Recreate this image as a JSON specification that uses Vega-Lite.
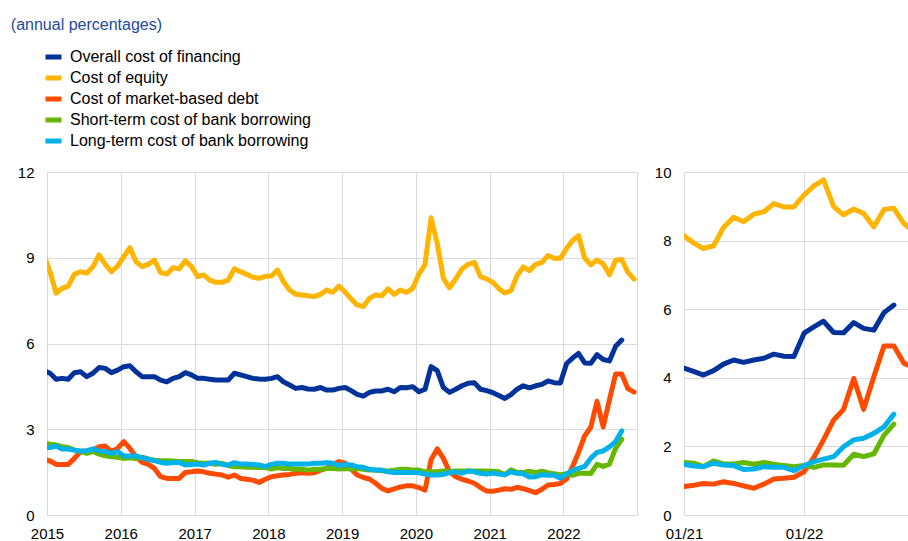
{
"$schema": "https://vega.github.io/schema/vega-lite/v6.json",
"padding": {"left": 10, "top": 16, "right": 0, "bottom": 0},
"title": {"text": "(annual percentages)", "anchor": "start", "frame": "bounds", "offset": 14, "dx": -6, "font": "Liberation Sans", "fontSize": 16, "fontWeight": "normal", "color": "#1e4aa0"},
"data": {"values": [
{"series":"Overall cost of financing","date":"2014-12","value":5.05},
{"series":"Overall cost of financing","date":"2015-01","value":4.96},
{"series":"Overall cost of financing","date":"2015-02","value":4.75},
{"series":"Overall cost of financing","date":"2015-03","value":4.78},
{"series":"Overall cost of financing","date":"2015-04","value":4.75},
{"series":"Overall cost of financing","date":"2015-05","value":4.98},
{"series":"Overall cost of financing","date":"2015-06","value":5.01},
{"series":"Overall cost of financing","date":"2015-07","value":4.84},
{"series":"Overall cost of financing","date":"2015-08","value":4.96},
{"series":"Overall cost of financing","date":"2015-09","value":5.16},
{"series":"Overall cost of financing","date":"2015-10","value":5.13},
{"series":"Overall cost of financing","date":"2015-11","value":4.98},
{"series":"Overall cost of financing","date":"2015-12","value":5.07},
{"series":"Overall cost of financing","date":"2016-01","value":5.19},
{"series":"Overall cost of financing","date":"2016-02","value":5.22},
{"series":"Overall cost of financing","date":"2016-03","value":5.01},
{"series":"Overall cost of financing","date":"2016-04","value":4.84},
{"series":"Overall cost of financing","date":"2016-05","value":4.84},
{"series":"Overall cost of financing","date":"2016-06","value":4.84},
{"series":"Overall cost of financing","date":"2016-07","value":4.72},
{"series":"Overall cost of financing","date":"2016-08","value":4.66},
{"series":"Overall cost of financing","date":"2016-09","value":4.78},
{"series":"Overall cost of financing","date":"2016-10","value":4.84},
{"series":"Overall cost of financing","date":"2016-11","value":4.98},
{"series":"Overall cost of financing","date":"2016-12","value":4.90},
{"series":"Overall cost of financing","date":"2017-01","value":4.78},
{"series":"Overall cost of financing","date":"2017-02","value":4.78},
{"series":"Overall cost of financing","date":"2017-03","value":4.75},
{"series":"Overall cost of financing","date":"2017-04","value":4.72},
{"series":"Overall cost of financing","date":"2017-05","value":4.72},
{"series":"Overall cost of financing","date":"2017-06","value":4.72},
{"series":"Overall cost of financing","date":"2017-07","value":4.96},
{"series":"Overall cost of financing","date":"2017-08","value":4.90},
{"series":"Overall cost of financing","date":"2017-09","value":4.84},
{"series":"Overall cost of financing","date":"2017-10","value":4.78},
{"series":"Overall cost of financing","date":"2017-11","value":4.76},
{"series":"Overall cost of financing","date":"2017-12","value":4.75},
{"series":"Overall cost of financing","date":"2018-01","value":4.78},
{"series":"Overall cost of financing","date":"2018-02","value":4.84},
{"series":"Overall cost of financing","date":"2018-03","value":4.66},
{"series":"Overall cost of financing","date":"2018-04","value":4.55},
{"series":"Overall cost of financing","date":"2018-05","value":4.43},
{"series":"Overall cost of financing","date":"2018-06","value":4.46},
{"series":"Overall cost of financing","date":"2018-07","value":4.41},
{"series":"Overall cost of financing","date":"2018-08","value":4.40},
{"series":"Overall cost of financing","date":"2018-09","value":4.46},
{"series":"Overall cost of financing","date":"2018-10","value":4.37},
{"series":"Overall cost of financing","date":"2018-11","value":4.37},
{"series":"Overall cost of financing","date":"2018-12","value":4.43},
{"series":"Overall cost of financing","date":"2019-01","value":4.46},
{"series":"Overall cost of financing","date":"2019-02","value":4.35},
{"series":"Overall cost of financing","date":"2019-03","value":4.22},
{"series":"Overall cost of financing","date":"2019-04","value":4.16},
{"series":"Overall cost of financing","date":"2019-05","value":4.29},
{"series":"Overall cost of financing","date":"2019-06","value":4.34},
{"series":"Overall cost of financing","date":"2019-07","value":4.34},
{"series":"Overall cost of financing","date":"2019-08","value":4.40},
{"series":"Overall cost of financing","date":"2019-09","value":4.31},
{"series":"Overall cost of financing","date":"2019-10","value":4.46},
{"series":"Overall cost of financing","date":"2019-11","value":4.45},
{"series":"Overall cost of financing","date":"2019-12","value":4.49},
{"series":"Overall cost of financing","date":"2020-01","value":4.31},
{"series":"Overall cost of financing","date":"2020-02","value":4.40},
{"series":"Overall cost of financing","date":"2020-03","value":5.19},
{"series":"Overall cost of financing","date":"2020-04","value":5.05},
{"series":"Overall cost of financing","date":"2020-05","value":4.46},
{"series":"Overall cost of financing","date":"2020-06","value":4.29},
{"series":"Overall cost of financing","date":"2020-07","value":4.40},
{"series":"Overall cost of financing","date":"2020-08","value":4.52},
{"series":"Overall cost of financing","date":"2020-09","value":4.61},
{"series":"Overall cost of financing","date":"2020-10","value":4.63},
{"series":"Overall cost of financing","date":"2020-11","value":4.40},
{"series":"Overall cost of financing","date":"2020-12","value":4.35},
{"series":"Overall cost of financing","date":"2021-01","value":4.28},
{"series":"Overall cost of financing","date":"2021-02","value":4.18},
{"series":"Overall cost of financing","date":"2021-03","value":4.08},
{"series":"Overall cost of financing","date":"2021-04","value":4.21},
{"series":"Overall cost of financing","date":"2021-05","value":4.40},
{"series":"Overall cost of financing","date":"2021-06","value":4.52},
{"series":"Overall cost of financing","date":"2021-07","value":4.45},
{"series":"Overall cost of financing","date":"2021-08","value":4.52},
{"series":"Overall cost of financing","date":"2021-09","value":4.57},
{"series":"Overall cost of financing","date":"2021-10","value":4.69},
{"series":"Overall cost of financing","date":"2021-11","value":4.63},
{"series":"Overall cost of financing","date":"2021-12","value":4.62},
{"series":"Overall cost of financing","date":"2022-01","value":5.30},
{"series":"Overall cost of financing","date":"2022-02","value":5.49},
{"series":"Overall cost of financing","date":"2022-03","value":5.65},
{"series":"Overall cost of financing","date":"2022-04","value":5.32},
{"series":"Overall cost of financing","date":"2022-05","value":5.31},
{"series":"Overall cost of financing","date":"2022-06","value":5.61},
{"series":"Overall cost of financing","date":"2022-07","value":5.44},
{"series":"Overall cost of financing","date":"2022-08","value":5.39},
{"series":"Overall cost of financing","date":"2022-09","value":5.90},
{"series":"Overall cost of financing","date":"2022-10","value":6.12},
{"series":"Cost of equity","date":"2014-12","value":9.10},
{"series":"Cost of equity","date":"2015-01","value":8.50},
{"series":"Cost of equity","date":"2015-02","value":7.76},
{"series":"Cost of equity","date":"2015-03","value":7.93},
{"series":"Cost of equity","date":"2015-04","value":8.01},
{"series":"Cost of equity","date":"2015-05","value":8.43},
{"series":"Cost of equity","date":"2015-06","value":8.51},
{"series":"Cost of equity","date":"2015-07","value":8.46},
{"series":"Cost of equity","date":"2015-08","value":8.69},
{"series":"Cost of equity","date":"2015-09","value":9.10},
{"series":"Cost of equity","date":"2015-10","value":8.77},
{"series":"Cost of equity","date":"2015-11","value":8.51},
{"series":"Cost of equity","date":"2015-12","value":8.71},
{"series":"Cost of equity","date":"2016-01","value":9.04},
{"series":"Cost of equity","date":"2016-02","value":9.35},
{"series":"Cost of equity","date":"2016-03","value":8.86},
{"series":"Cost of equity","date":"2016-04","value":8.69},
{"series":"Cost of equity","date":"2016-05","value":8.77},
{"series":"Cost of equity","date":"2016-06","value":8.92},
{"series":"Cost of equity","date":"2016-07","value":8.48},
{"series":"Cost of equity","date":"2016-08","value":8.43},
{"series":"Cost of equity","date":"2016-09","value":8.65},
{"series":"Cost of equity","date":"2016-10","value":8.61},
{"series":"Cost of equity","date":"2016-11","value":8.89},
{"series":"Cost of equity","date":"2016-12","value":8.69},
{"series":"Cost of equity","date":"2017-01","value":8.34},
{"series":"Cost of equity","date":"2017-02","value":8.40},
{"series":"Cost of equity","date":"2017-03","value":8.22},
{"series":"Cost of equity","date":"2017-04","value":8.14},
{"series":"Cost of equity","date":"2017-05","value":8.14},
{"series":"Cost of equity","date":"2017-06","value":8.22},
{"series":"Cost of equity","date":"2017-07","value":8.61},
{"series":"Cost of equity","date":"2017-08","value":8.51},
{"series":"Cost of equity","date":"2017-09","value":8.42},
{"series":"Cost of equity","date":"2017-10","value":8.32},
{"series":"Cost of equity","date":"2017-11","value":8.28},
{"series":"Cost of equity","date":"2017-12","value":8.35},
{"series":"Cost of equity","date":"2018-01","value":8.36},
{"series":"Cost of equity","date":"2018-02","value":8.57},
{"series":"Cost of equity","date":"2018-03","value":8.17},
{"series":"Cost of equity","date":"2018-04","value":7.87},
{"series":"Cost of equity","date":"2018-05","value":7.72},
{"series":"Cost of equity","date":"2018-06","value":7.70},
{"series":"Cost of equity","date":"2018-07","value":7.67},
{"series":"Cost of equity","date":"2018-08","value":7.64},
{"series":"Cost of equity","date":"2018-09","value":7.72},
{"series":"Cost of equity","date":"2018-10","value":7.87},
{"series":"Cost of equity","date":"2018-11","value":7.79},
{"series":"Cost of equity","date":"2018-12","value":8.01},
{"series":"Cost of equity","date":"2019-01","value":7.79},
{"series":"Cost of equity","date":"2019-02","value":7.56},
{"series":"Cost of equity","date":"2019-03","value":7.35},
{"series":"Cost of equity","date":"2019-04","value":7.29},
{"series":"Cost of equity","date":"2019-05","value":7.58},
{"series":"Cost of equity","date":"2019-06","value":7.70},
{"series":"Cost of equity","date":"2019-07","value":7.67},
{"series":"Cost of equity","date":"2019-08","value":7.91},
{"series":"Cost of equity","date":"2019-09","value":7.72},
{"series":"Cost of equity","date":"2019-10","value":7.87},
{"series":"Cost of equity","date":"2019-11","value":7.79},
{"series":"Cost of equity","date":"2019-12","value":7.93},
{"series":"Cost of equity","date":"2020-01","value":8.43},
{"series":"Cost of equity","date":"2020-02","value":8.77},
{"series":"Cost of equity","date":"2020-03","value":10.40},
{"series":"Cost of equity","date":"2020-04","value":9.50},
{"series":"Cost of equity","date":"2020-05","value":8.28},
{"series":"Cost of equity","date":"2020-06","value":7.95},
{"series":"Cost of equity","date":"2020-07","value":8.26},
{"series":"Cost of equity","date":"2020-08","value":8.61},
{"series":"Cost of equity","date":"2020-09","value":8.77},
{"series":"Cost of equity","date":"2020-10","value":8.84},
{"series":"Cost of equity","date":"2020-11","value":8.34},
{"series":"Cost of equity","date":"2020-12","value":8.26},
{"series":"Cost of equity","date":"2021-01","value":8.14},
{"series":"Cost of equity","date":"2021-02","value":7.92},
{"series":"Cost of equity","date":"2021-03","value":7.77},
{"series":"Cost of equity","date":"2021-04","value":7.85},
{"series":"Cost of equity","date":"2021-05","value":8.38},
{"series":"Cost of equity","date":"2021-06","value":8.68},
{"series":"Cost of equity","date":"2021-07","value":8.55},
{"series":"Cost of equity","date":"2021-08","value":8.77},
{"series":"Cost of equity","date":"2021-09","value":8.84},
{"series":"Cost of equity","date":"2021-10","value":9.08},
{"series":"Cost of equity","date":"2021-11","value":8.98},
{"series":"Cost of equity","date":"2021-12","value":8.98},
{"series":"Cost of equity","date":"2022-01","value":9.33},
{"series":"Cost of equity","date":"2022-02","value":9.60},
{"series":"Cost of equity","date":"2022-03","value":9.77},
{"series":"Cost of equity","date":"2022-04","value":8.99},
{"series":"Cost of equity","date":"2022-05","value":8.75},
{"series":"Cost of equity","date":"2022-06","value":8.92},
{"series":"Cost of equity","date":"2022-07","value":8.79},
{"series":"Cost of equity","date":"2022-08","value":8.40},
{"series":"Cost of equity","date":"2022-09","value":8.91},
{"series":"Cost of equity","date":"2022-10","value":8.94},
{"series":"Cost of equity","date":"2022-11","value":8.49},
{"series":"Cost of equity","date":"2022-12","value":8.25},
{"series":"Cost of market-based debt","date":"2014-12","value":1.95},
{"series":"Cost of market-based debt","date":"2015-01","value":1.89},
{"series":"Cost of market-based debt","date":"2015-02","value":1.77},
{"series":"Cost of market-based debt","date":"2015-03","value":1.77},
{"series":"Cost of market-based debt","date":"2015-04","value":1.77},
{"series":"Cost of market-based debt","date":"2015-05","value":1.98},
{"series":"Cost of market-based debt","date":"2015-06","value":2.22},
{"series":"Cost of market-based debt","date":"2015-07","value":2.24},
{"series":"Cost of market-based debt","date":"2015-08","value":2.27},
{"series":"Cost of market-based debt","date":"2015-09","value":2.39},
{"series":"Cost of market-based debt","date":"2015-10","value":2.41},
{"series":"Cost of market-based debt","date":"2015-11","value":2.22},
{"series":"Cost of market-based debt","date":"2015-12","value":2.33},
{"series":"Cost of market-based debt","date":"2016-01","value":2.57},
{"series":"Cost of market-based debt","date":"2016-02","value":2.33},
{"series":"Cost of market-based debt","date":"2016-03","value":2.04},
{"series":"Cost of market-based debt","date":"2016-04","value":1.84},
{"series":"Cost of market-based debt","date":"2016-05","value":1.77},
{"series":"Cost of market-based debt","date":"2016-06","value":1.63},
{"series":"Cost of market-based debt","date":"2016-07","value":1.34},
{"series":"Cost of market-based debt","date":"2016-08","value":1.28},
{"series":"Cost of market-based debt","date":"2016-09","value":1.28},
{"series":"Cost of market-based debt","date":"2016-10","value":1.28},
{"series":"Cost of market-based debt","date":"2016-11","value":1.49},
{"series":"Cost of market-based debt","date":"2016-12","value":1.51},
{"series":"Cost of market-based debt","date":"2017-01","value":1.54},
{"series":"Cost of market-based debt","date":"2017-02","value":1.51},
{"series":"Cost of market-based debt","date":"2017-03","value":1.46},
{"series":"Cost of market-based debt","date":"2017-04","value":1.43},
{"series":"Cost of market-based debt","date":"2017-05","value":1.40},
{"series":"Cost of market-based debt","date":"2017-06","value":1.32},
{"series":"Cost of market-based debt","date":"2017-07","value":1.40},
{"series":"Cost of market-based debt","date":"2017-08","value":1.28},
{"series":"Cost of market-based debt","date":"2017-09","value":1.25},
{"series":"Cost of market-based debt","date":"2017-10","value":1.22},
{"series":"Cost of market-based debt","date":"2017-11","value":1.14},
{"series":"Cost of market-based debt","date":"2017-12","value":1.25},
{"series":"Cost of market-based debt","date":"2018-01","value":1.34},
{"series":"Cost of market-based debt","date":"2018-02","value":1.37},
{"series":"Cost of market-based debt","date":"2018-03","value":1.40},
{"series":"Cost of market-based debt","date":"2018-04","value":1.42},
{"series":"Cost of market-based debt","date":"2018-05","value":1.46},
{"series":"Cost of market-based debt","date":"2018-06","value":1.48},
{"series":"Cost of market-based debt","date":"2018-07","value":1.46},
{"series":"Cost of market-based debt","date":"2018-08","value":1.48},
{"series":"Cost of market-based debt","date":"2018-09","value":1.57},
{"series":"Cost of market-based debt","date":"2018-10","value":1.63},
{"series":"Cost of market-based debt","date":"2018-11","value":1.77},
{"series":"Cost of market-based debt","date":"2018-12","value":1.87},
{"series":"Cost of market-based debt","date":"2019-01","value":1.81},
{"series":"Cost of market-based debt","date":"2019-02","value":1.60},
{"series":"Cost of market-based debt","date":"2019-03","value":1.40},
{"series":"Cost of market-based debt","date":"2019-04","value":1.31},
{"series":"Cost of market-based debt","date":"2019-05","value":1.26},
{"series":"Cost of market-based debt","date":"2019-06","value":1.11},
{"series":"Cost of market-based debt","date":"2019-07","value":0.93},
{"series":"Cost of market-based debt","date":"2019-08","value":0.84},
{"series":"Cost of market-based debt","date":"2019-09","value":0.91},
{"series":"Cost of market-based debt","date":"2019-10","value":0.98},
{"series":"Cost of market-based debt","date":"2019-11","value":1.02},
{"series":"Cost of market-based debt","date":"2019-12","value":1.02},
{"series":"Cost of market-based debt","date":"2020-01","value":0.96},
{"series":"Cost of market-based debt","date":"2020-02","value":0.87},
{"series":"Cost of market-based debt","date":"2020-03","value":1.93},
{"series":"Cost of market-based debt","date":"2020-04","value":2.31},
{"series":"Cost of market-based debt","date":"2020-05","value":1.98},
{"series":"Cost of market-based debt","date":"2020-06","value":1.51},
{"series":"Cost of market-based debt","date":"2020-07","value":1.34},
{"series":"Cost of market-based debt","date":"2020-08","value":1.25},
{"series":"Cost of market-based debt","date":"2020-09","value":1.19},
{"series":"Cost of market-based debt","date":"2020-10","value":1.11},
{"series":"Cost of market-based debt","date":"2020-11","value":0.96},
{"series":"Cost of market-based debt","date":"2020-12","value":0.84},
{"series":"Cost of market-based debt","date":"2021-01","value":0.83},
{"series":"Cost of market-based debt","date":"2021-02","value":0.87},
{"series":"Cost of market-based debt","date":"2021-03","value":0.92},
{"series":"Cost of market-based debt","date":"2021-04","value":0.90},
{"series":"Cost of market-based debt","date":"2021-05","value":0.97},
{"series":"Cost of market-based debt","date":"2021-06","value":0.92},
{"series":"Cost of market-based debt","date":"2021-07","value":0.85},
{"series":"Cost of market-based debt","date":"2021-08","value":0.78},
{"series":"Cost of market-based debt","date":"2021-09","value":0.90},
{"series":"Cost of market-based debt","date":"2021-10","value":1.05},
{"series":"Cost of market-based debt","date":"2021-11","value":1.07},
{"series":"Cost of market-based debt","date":"2021-12","value":1.10},
{"series":"Cost of market-based debt","date":"2022-01","value":1.26},
{"series":"Cost of market-based debt","date":"2022-02","value":1.70},
{"series":"Cost of market-based debt","date":"2022-03","value":2.19},
{"series":"Cost of market-based debt","date":"2022-04","value":2.77},
{"series":"Cost of market-based debt","date":"2022-05","value":3.08},
{"series":"Cost of market-based debt","date":"2022-06","value":3.98},
{"series":"Cost of market-based debt","date":"2022-07","value":3.08},
{"series":"Cost of market-based debt","date":"2022-08","value":4.03},
{"series":"Cost of market-based debt","date":"2022-09","value":4.93},
{"series":"Cost of market-based debt","date":"2022-10","value":4.93},
{"series":"Cost of market-based debt","date":"2022-11","value":4.42},
{"series":"Cost of market-based debt","date":"2022-12","value":4.30},
{"series":"Short-term cost of bank borrowing","date":"2014-12","value":2.52},
{"series":"Short-term cost of bank borrowing","date":"2015-01","value":2.48},
{"series":"Short-term cost of bank borrowing","date":"2015-02","value":2.45},
{"series":"Short-term cost of bank borrowing","date":"2015-03","value":2.39},
{"series":"Short-term cost of bank borrowing","date":"2015-04","value":2.36},
{"series":"Short-term cost of bank borrowing","date":"2015-05","value":2.27},
{"series":"Short-term cost of bank borrowing","date":"2015-06","value":2.22},
{"series":"Short-term cost of bank borrowing","date":"2015-07","value":2.16},
{"series":"Short-term cost of bank borrowing","date":"2015-08","value":2.22},
{"series":"Short-term cost of bank borrowing","date":"2015-09","value":2.13},
{"series":"Short-term cost of bank borrowing","date":"2015-10","value":2.07},
{"series":"Short-term cost of bank borrowing","date":"2015-11","value":2.04},
{"series":"Short-term cost of bank borrowing","date":"2015-12","value":2.02},
{"series":"Short-term cost of bank borrowing","date":"2016-01","value":1.98},
{"series":"Short-term cost of bank borrowing","date":"2016-02","value":2.00},
{"series":"Short-term cost of bank borrowing","date":"2016-03","value":1.98},
{"series":"Short-term cost of bank borrowing","date":"2016-04","value":2.02},
{"series":"Short-term cost of bank borrowing","date":"2016-05","value":1.96},
{"series":"Short-term cost of bank borrowing","date":"2016-06","value":1.92},
{"series":"Short-term cost of bank borrowing","date":"2016-07","value":1.90},
{"series":"Short-term cost of bank borrowing","date":"2016-08","value":1.90},
{"series":"Short-term cost of bank borrowing","date":"2016-09","value":1.89},
{"series":"Short-term cost of bank borrowing","date":"2016-10","value":1.87},
{"series":"Short-term cost of bank borrowing","date":"2016-11","value":1.87},
{"series":"Short-term cost of bank borrowing","date":"2016-12","value":1.87},
{"series":"Short-term cost of bank borrowing","date":"2017-01","value":1.83},
{"series":"Short-term cost of bank borrowing","date":"2017-02","value":1.81},
{"series":"Short-term cost of bank borrowing","date":"2017-03","value":1.81},
{"series":"Short-term cost of bank borrowing","date":"2017-04","value":1.77},
{"series":"Short-term cost of bank borrowing","date":"2017-05","value":1.81},
{"series":"Short-term cost of bank borrowing","date":"2017-06","value":1.73},
{"series":"Short-term cost of bank borrowing","date":"2017-07","value":1.69},
{"series":"Short-term cost of bank borrowing","date":"2017-08","value":1.69},
{"series":"Short-term cost of bank borrowing","date":"2017-09","value":1.67},
{"series":"Short-term cost of bank borrowing","date":"2017-10","value":1.67},
{"series":"Short-term cost of bank borrowing","date":"2017-11","value":1.66},
{"series":"Short-term cost of bank borrowing","date":"2017-12","value":1.66},
{"series":"Short-term cost of bank borrowing","date":"2018-01","value":1.61},
{"series":"Short-term cost of bank borrowing","date":"2018-02","value":1.66},
{"series":"Short-term cost of bank borrowing","date":"2018-03","value":1.63},
{"series":"Short-term cost of bank borrowing","date":"2018-04","value":1.63},
{"series":"Short-term cost of bank borrowing","date":"2018-05","value":1.60},
{"series":"Short-term cost of bank borrowing","date":"2018-06","value":1.60},
{"series":"Short-term cost of bank borrowing","date":"2018-07","value":1.57},
{"series":"Short-term cost of bank borrowing","date":"2018-08","value":1.60},
{"series":"Short-term cost of bank borrowing","date":"2018-09","value":1.60},
{"series":"Short-term cost of bank borrowing","date":"2018-10","value":1.63},
{"series":"Short-term cost of bank borrowing","date":"2018-11","value":1.63},
{"series":"Short-term cost of bank borrowing","date":"2018-12","value":1.61},
{"series":"Short-term cost of bank borrowing","date":"2019-01","value":1.63},
{"series":"Short-term cost of bank borrowing","date":"2019-02","value":1.61},
{"series":"Short-term cost of bank borrowing","date":"2019-03","value":1.63},
{"series":"Short-term cost of bank borrowing","date":"2019-04","value":1.60},
{"series":"Short-term cost of bank borrowing","date":"2019-05","value":1.57},
{"series":"Short-term cost of bank borrowing","date":"2019-06","value":1.57},
{"series":"Short-term cost of bank borrowing","date":"2019-07","value":1.55},
{"series":"Short-term cost of bank borrowing","date":"2019-08","value":1.54},
{"series":"Short-term cost of bank borrowing","date":"2019-09","value":1.57},
{"series":"Short-term cost of bank borrowing","date":"2019-10","value":1.60},
{"series":"Short-term cost of bank borrowing","date":"2019-11","value":1.60},
{"series":"Short-term cost of bank borrowing","date":"2019-12","value":1.57},
{"series":"Short-term cost of bank borrowing","date":"2020-01","value":1.57},
{"series":"Short-term cost of bank borrowing","date":"2020-02","value":1.51},
{"series":"Short-term cost of bank borrowing","date":"2020-03","value":1.51},
{"series":"Short-term cost of bank borrowing","date":"2020-04","value":1.51},
{"series":"Short-term cost of bank borrowing","date":"2020-05","value":1.54},
{"series":"Short-term cost of bank borrowing","date":"2020-06","value":1.51},
{"series":"Short-term cost of bank borrowing","date":"2020-07","value":1.54},
{"series":"Short-term cost of bank borrowing","date":"2020-08","value":1.54},
{"series":"Short-term cost of bank borrowing","date":"2020-09","value":1.54},
{"series":"Short-term cost of bank borrowing","date":"2020-10","value":1.54},
{"series":"Short-term cost of bank borrowing","date":"2020-11","value":1.54},
{"series":"Short-term cost of bank borrowing","date":"2020-12","value":1.54},
{"series":"Short-term cost of bank borrowing","date":"2021-01","value":1.53},
{"series":"Short-term cost of bank borrowing","date":"2021-02","value":1.51},
{"series":"Short-term cost of bank borrowing","date":"2021-03","value":1.41},
{"series":"Short-term cost of bank borrowing","date":"2021-04","value":1.58},
{"series":"Short-term cost of bank borrowing","date":"2021-05","value":1.49},
{"series":"Short-term cost of bank borrowing","date":"2021-06","value":1.49},
{"series":"Short-term cost of bank borrowing","date":"2021-07","value":1.53},
{"series":"Short-term cost of bank borrowing","date":"2021-08","value":1.48},
{"series":"Short-term cost of bank borrowing","date":"2021-09","value":1.53},
{"series":"Short-term cost of bank borrowing","date":"2021-10","value":1.48},
{"series":"Short-term cost of bank borrowing","date":"2021-11","value":1.44},
{"series":"Short-term cost of bank borrowing","date":"2021-12","value":1.41},
{"series":"Short-term cost of bank borrowing","date":"2022-01","value":1.44},
{"series":"Short-term cost of bank borrowing","date":"2022-02","value":1.39},
{"series":"Short-term cost of bank borrowing","date":"2022-03","value":1.46},
{"series":"Short-term cost of bank borrowing","date":"2022-04","value":1.46},
{"series":"Short-term cost of bank borrowing","date":"2022-05","value":1.45},
{"series":"Short-term cost of bank borrowing","date":"2022-06","value":1.77},
{"series":"Short-term cost of bank borrowing","date":"2022-07","value":1.70},
{"series":"Short-term cost of bank borrowing","date":"2022-08","value":1.78},
{"series":"Short-term cost of bank borrowing","date":"2022-09","value":2.33},
{"series":"Short-term cost of bank borrowing","date":"2022-10","value":2.65},
{"series":"Long-term cost of bank borrowing","date":"2014-12","value":2.36},
{"series":"Long-term cost of bank borrowing","date":"2015-01","value":2.36},
{"series":"Long-term cost of bank borrowing","date":"2015-02","value":2.41},
{"series":"Long-term cost of bank borrowing","date":"2015-03","value":2.31},
{"series":"Long-term cost of bank borrowing","date":"2015-04","value":2.31},
{"series":"Long-term cost of bank borrowing","date":"2015-05","value":2.27},
{"series":"Long-term cost of bank borrowing","date":"2015-06","value":2.24},
{"series":"Long-term cost of bank borrowing","date":"2015-07","value":2.24},
{"series":"Long-term cost of bank borrowing","date":"2015-08","value":2.31},
{"series":"Long-term cost of bank borrowing","date":"2015-09","value":2.24},
{"series":"Long-term cost of bank borrowing","date":"2015-10","value":2.22},
{"series":"Long-term cost of bank borrowing","date":"2015-11","value":2.16},
{"series":"Long-term cost of bank borrowing","date":"2015-12","value":2.22},
{"series":"Long-term cost of bank borrowing","date":"2016-01","value":2.06},
{"series":"Long-term cost of bank borrowing","date":"2016-02","value":2.06},
{"series":"Long-term cost of bank borrowing","date":"2016-03","value":2.07},
{"series":"Long-term cost of bank borrowing","date":"2016-04","value":2.00},
{"series":"Long-term cost of bank borrowing","date":"2016-05","value":1.95},
{"series":"Long-term cost of bank borrowing","date":"2016-06","value":1.90},
{"series":"Long-term cost of bank borrowing","date":"2016-07","value":1.84},
{"series":"Long-term cost of bank borrowing","date":"2016-08","value":1.81},
{"series":"Long-term cost of bank borrowing","date":"2016-09","value":1.84},
{"series":"Long-term cost of bank borrowing","date":"2016-10","value":1.84},
{"series":"Long-term cost of bank borrowing","date":"2016-11","value":1.75},
{"series":"Long-term cost of bank borrowing","date":"2016-12","value":1.77},
{"series":"Long-term cost of bank borrowing","date":"2017-01","value":1.78},
{"series":"Long-term cost of bank borrowing","date":"2017-02","value":1.75},
{"series":"Long-term cost of bank borrowing","date":"2017-03","value":1.81},
{"series":"Long-term cost of bank borrowing","date":"2017-04","value":1.84},
{"series":"Long-term cost of bank borrowing","date":"2017-05","value":1.77},
{"series":"Long-term cost of bank borrowing","date":"2017-06","value":1.75},
{"series":"Long-term cost of bank borrowing","date":"2017-07","value":1.83},
{"series":"Long-term cost of bank borrowing","date":"2017-08","value":1.78},
{"series":"Long-term cost of bank borrowing","date":"2017-09","value":1.78},
{"series":"Long-term cost of bank borrowing","date":"2017-10","value":1.77},
{"series":"Long-term cost of bank borrowing","date":"2017-11","value":1.75},
{"series":"Long-term cost of bank borrowing","date":"2017-12","value":1.69},
{"series":"Long-term cost of bank borrowing","date":"2018-01","value":1.77},
{"series":"Long-term cost of bank borrowing","date":"2018-02","value":1.81},
{"series":"Long-term cost of bank borrowing","date":"2018-03","value":1.81},
{"series":"Long-term cost of bank borrowing","date":"2018-04","value":1.78},
{"series":"Long-term cost of bank borrowing","date":"2018-05","value":1.78},
{"series":"Long-term cost of bank borrowing","date":"2018-06","value":1.78},
{"series":"Long-term cost of bank borrowing","date":"2018-07","value":1.78},
{"series":"Long-term cost of bank borrowing","date":"2018-08","value":1.81},
{"series":"Long-term cost of bank borrowing","date":"2018-09","value":1.81},
{"series":"Long-term cost of bank borrowing","date":"2018-10","value":1.83},
{"series":"Long-term cost of bank borrowing","date":"2018-11","value":1.81},
{"series":"Long-term cost of bank borrowing","date":"2018-12","value":1.73},
{"series":"Long-term cost of bank borrowing","date":"2019-01","value":1.77},
{"series":"Long-term cost of bank borrowing","date":"2019-02","value":1.75},
{"series":"Long-term cost of bank borrowing","date":"2019-03","value":1.69},
{"series":"Long-term cost of bank borrowing","date":"2019-04","value":1.67},
{"series":"Long-term cost of bank borrowing","date":"2019-05","value":1.60},
{"series":"Long-term cost of bank borrowing","date":"2019-06","value":1.57},
{"series":"Long-term cost of bank borrowing","date":"2019-07","value":1.57},
{"series":"Long-term cost of bank borrowing","date":"2019-08","value":1.51},
{"series":"Long-term cost of bank borrowing","date":"2019-09","value":1.49},
{"series":"Long-term cost of bank borrowing","date":"2019-10","value":1.49},
{"series":"Long-term cost of bank borrowing","date":"2019-11","value":1.49},
{"series":"Long-term cost of bank borrowing","date":"2019-12","value":1.49},
{"series":"Long-term cost of bank borrowing","date":"2020-01","value":1.48},
{"series":"Long-term cost of bank borrowing","date":"2020-02","value":1.43},
{"series":"Long-term cost of bank borrowing","date":"2020-03","value":1.40},
{"series":"Long-term cost of bank borrowing","date":"2020-04","value":1.40},
{"series":"Long-term cost of bank borrowing","date":"2020-05","value":1.42},
{"series":"Long-term cost of bank borrowing","date":"2020-06","value":1.48},
{"series":"Long-term cost of bank borrowing","date":"2020-07","value":1.51},
{"series":"Long-term cost of bank borrowing","date":"2020-08","value":1.46},
{"series":"Long-term cost of bank borrowing","date":"2020-09","value":1.54},
{"series":"Long-term cost of bank borrowing","date":"2020-10","value":1.51},
{"series":"Long-term cost of bank borrowing","date":"2020-11","value":1.46},
{"series":"Long-term cost of bank borrowing","date":"2020-12","value":1.43},
{"series":"Long-term cost of bank borrowing","date":"2021-01","value":1.47},
{"series":"Long-term cost of bank borrowing","date":"2021-02","value":1.43},
{"series":"Long-term cost of bank borrowing","date":"2021-03","value":1.41},
{"series":"Long-term cost of bank borrowing","date":"2021-04","value":1.51},
{"series":"Long-term cost of bank borrowing","date":"2021-05","value":1.46},
{"series":"Long-term cost of bank borrowing","date":"2021-06","value":1.44},
{"series":"Long-term cost of bank borrowing","date":"2021-07","value":1.33},
{"series":"Long-term cost of bank borrowing","date":"2021-08","value":1.34},
{"series":"Long-term cost of bank borrowing","date":"2021-09","value":1.41},
{"series":"Long-term cost of bank borrowing","date":"2021-10","value":1.39},
{"series":"Long-term cost of bank borrowing","date":"2021-11","value":1.39},
{"series":"Long-term cost of bank borrowing","date":"2021-12","value":1.29},
{"series":"Long-term cost of bank borrowing","date":"2022-01","value":1.44},
{"series":"Long-term cost of bank borrowing","date":"2022-02","value":1.56},
{"series":"Long-term cost of bank borrowing","date":"2022-03","value":1.63},
{"series":"Long-term cost of bank borrowing","date":"2022-04","value":1.70},
{"series":"Long-term cost of bank borrowing","date":"2022-05","value":1.99},
{"series":"Long-term cost of bank borrowing","date":"2022-06","value":2.19},
{"series":"Long-term cost of bank borrowing","date":"2022-07","value":2.24},
{"series":"Long-term cost of bank borrowing","date":"2022-08","value":2.38},
{"series":"Long-term cost of bank borrowing","date":"2022-09","value":2.57},
{"series":"Long-term cost of bank borrowing","date":"2022-10","value":2.94}
]},
"spacing": 16,
"hconcat": [
{
"width": 590, "height": 343,
"view": {"stroke": "#d9d9d9"},
"mark": {"type": "line", "strokeWidth": 5, "clip": true, "strokeJoin": "round", "strokeCap": "round"},
"encoding": {
"x": {"field": "date", "type": "temporal", "timeUnit": "utcyearmonth", "bandPosition": 0.5,
 "scale": {"type": "utc", "domain": [{"year": 2015, "month": 1, "date": 1, "utc": true}, {"year": 2022, "month": 12, "date": 31, "utc": true}]},
 "axis": {"title": null, "format": "%Y", "labelFlush": false, "values": [
  {"year": 2015, "month": 1, "date": 1, "utc": true}, {"year": 2016, "month": 1, "date": 1, "utc": true},
  {"year": 2017, "month": 1, "date": 1, "utc": true}, {"year": 2018, "month": 1, "date": 1, "utc": true},
  {"year": 2019, "month": 1, "date": 1, "utc": true}, {"year": 2020, "month": 1, "date": 1, "utc": true},
  {"year": 2021, "month": 1, "date": 1, "utc": true}, {"year": 2022, "month": 1, "date": 1, "utc": true}]}},
"y": {"field": "value", "type": "quantitative", "scale": {"domain": [0, 12], "nice": false}, "axis": {"title": null, "values": [0, 3, 6, 9, 12]}},
"color": {"field": "series", "type": "nominal",
 "scale": {"domain": ["Overall cost of financing", "Cost of equity", "Cost of market-based debt", "Short-term cost of bank borrowing", "Long-term cost of bank borrowing"],
  "range": ["#003299", "#FFB400", "#FF4B00", "#65B800", "#00B1EA"]},
 "legend": {"orient": "none", "legendX": -4, "legendY": -125.5, "title": null}}
}
},
{
"width": 226, "height": 343,
"view": {"stroke": null},
"mark": {"type": "line", "strokeWidth": 5, "clip": true, "strokeJoin": "round", "strokeCap": "round"},
"encoding": {
"x": {"field": "date", "type": "temporal",
 "scale": {"type": "utc", "domain": [{"year": 2021, "month": 1, "date": 1, "utc": true}, {"year": 2022, "month": 11, "date": 19, "utc": true}]},
 "axis": {"title": null, "format": "%m/%y", "labelFlush": false, "values": [{"year": 2021, "month": 1, "date": 1, "utc": true}, {"year": 2022, "month": 1, "date": 1, "utc": true}]}},
"y": {"field": "value", "type": "quantitative", "scale": {"domain": [0, 10], "nice": false}, "axis": {"title": null, "values": [0, 2, 4, 6, 8, 10]}},
"color": {"field": "series", "type": "nominal",
 "scale": {"domain": ["Overall cost of financing", "Cost of equity", "Cost of market-based debt", "Short-term cost of bank borrowing", "Long-term cost of bank borrowing"],
  "range": ["#003299", "#FFB400", "#FF4B00", "#65B800", "#00B1EA"]},
 "legend": {"orient": "none", "legendX": -4, "legendY": -125.5, "title": null}}
}
}
],
"config": {
"font": "Liberation Sans",
"axis": {"labelFont": "Liberation Sans", "labelFontSize": 15, "labelColor": "#000000", "gridColor": "#d9d9d9", "gridWidth": 1, "domain": false, "ticks": false, "tickSize": 0},
"axisX": {"labelPadding": 11},
"axisY": {"labelPadding": 13},
"legend": {"labelFont": "Liberation Sans", "labelFontSize": 16, "labelColor": "#000000", "symbolType": "stroke", "symbolSize": 256, "symbolStrokeWidth": 5, "rowPadding": 0, "labelOffset": 6, "padding": 0, "labelLimit": 400}
}
}
